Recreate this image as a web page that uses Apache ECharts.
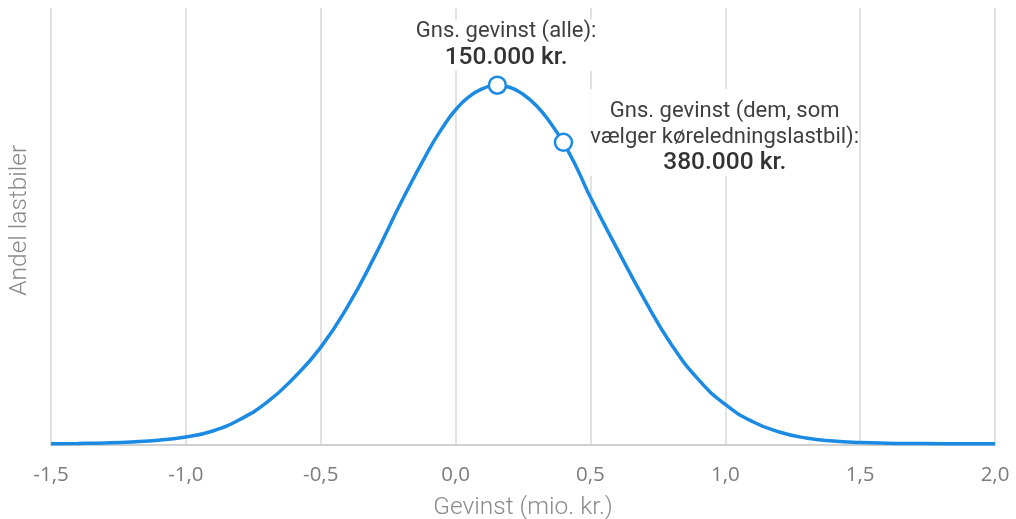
<!DOCTYPE html>
<html>
<head>
<meta charset="utf-8">
<script src="https://cdn.jsdelivr.net/npm/echarts@6/dist/echarts.min.js"></script>
<style>
html,body{margin:0;padding:0;background:#fff;}
#chart{width:1016px;height:519px;}
</style>
</head>
<body>
<div id="chart"></div>
<script>
// Gevinst (mio. kr.) values along the x axis
const gevinst = [-1.5,-1.4,-1.3,-1.2,-1.1,-1.0,-0.9,-0.8,-0.7,-0.6,-0.5,-0.4,-0.3,-0.2,-0.1,-0.05,0.0,0.05,0.1,0.15,0.2,0.25,0.3,0.35,0.4,0.45,0.5,0.6,0.7,0.8,0.9,1.0,1.1,1.2,1.3,1.4,1.5,1.6,1.7,1.8,1.9,2.0];
// Andel lastbiler (relative share, peak = 100)
const andel = [0.22,0.31,0.45,0.72,1.20,2.09,3.76,6.96,11.70,18.52,27.02,38.44,52.37,67.69,81.89,88.02,93.18,96.80,99.03,100,99.44,97.49,94.29,89.69,83.98,76.88,68.80,54.32,40.39,27.86,18.11,11.14,6.41,3.48,1.81,0.97,0.56,0.36,0.28,0.22,0.22,0.22];
// Highlighted points
const markX = [0.155, 0.40];
const markY = [100, 84.1];
const markTitles = ['Gns. gevinst (alle):', 'Gns. gevinst (dem, som\nvælger køreledningslastbil):'];
const markValues = ['150.000 kr.', '380.000 kr.'];
const xTicks = {min: -1.5, max: 2.0, interval: 0.5};

const chart = echarts.init(document.getElementById('chart'));
const FONT = 'Roboto';
const blue = '#1b8ae3';

const labelPos = [[18.5, -30.5], [171, 0]];
const labelPad = [[0, 6, 0, 6], [10, 0, 0, 0]];

chart.setOption({
  animation: false,
  textStyle: {fontFamily: FONT},
  grid: {left: 51, right: 21, top: 8, bottom: 74.5, containLabel: false, outerBoundsMode: 'none'},
  xAxis: {
    type: 'value',
    min: xTicks.min, max: xTicks.max, interval: xTicks.interval,
    name: 'Gevinst (mio. kr.)',
    nameLocation: 'middle',
    nameGap: 51,
    nameTextStyle: {color: '#8a8a8a', fontSize: 24.5, fontFamily: FONT, fontWeight: 300},
    axisLine: {show: true, onZero: false, lineStyle: {color: '#d0d0d0', width: 2}},
    axisTick: {show: false},
    axisLabel: {
      color: '#7c7c7c', fontSize: 20.5, fontFamily: 'Open Sans', margin: 20,
      formatter: v => v.toFixed(1).replace('.', ',')
    },
    splitLine: {show: true, lineStyle: {color: '#e2e2e2', width: 2}}
  },
  yAxis: {
    type: 'value', min: 0, max: 121.5,
    name: 'Andel lastbiler',
    nameLocation: 'middle',
    nameGap: 19,
    nameTextStyle: {color: '#8a8a8a', fontSize: 24.5, fontFamily: FONT, fontWeight: 300, padding: [0, 0, 0, 12]},
    axisLine: {show: false}, axisTick: {show: false}, axisLabel: {show: false},
    splitLine: {show: false}
  },
  series: [
    {
      type: 'line',
      data: gevinst.map((x, i) => [x, andel[i]]),
      smooth: 0.5,
      showSymbol: false,
      lineStyle: {color: blue, width: 3.5},
      z: 3
    },
    {
      type: 'scatter',
      data: markX.map((x, i) => ({
        value: [x, markY[i]],
        label: {
          show: true,
          position: labelPos[i],
          align: 'center',
          verticalAlign: 'middle',
          backgroundColor: '#fff',
          padding: labelPad[i],
          formatter: '{t|' + markTitles[i].split('\n').join('}\n{t|') + '}\n{v|' + markValues[i] + '}',
          rich: {
            t: {fontSize: 22, color: '#3f3f3f', fontFamily: FONT, lineHeight: 25.5, align: 'center'},
            v: {fontSize: 24.5, color: '#333', fontFamily: FONT, fontWeight: 500, lineHeight: 26, align: 'center'}
          }
        }
      })),
      symbol: 'circle',
      symbolSize: 17,
      itemStyle: {color: '#fff', borderColor: blue, borderWidth: 2.5, opacity: 1},
      z: 5
    }
  ]
});
</script>
</body>
</html>
